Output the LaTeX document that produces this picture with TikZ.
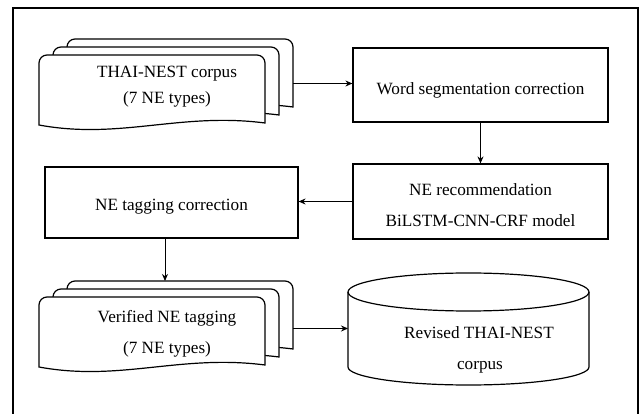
\documentclass[tikz,border=0pt]{standalone}
\usepackage{fontspec}
\setmainfont{Liberation Serif}
\usetikzlibrary{arrows.meta}
\tikzset{
  outline/.style={draw=black, line width=1.2pt},
  stepbox/.style={outline, rectangle, fill=white, inner sep=0pt},
  label/.style={font=\fontsize{17.2}{20}\selectfont, anchor=base, inner sep=0pt},
  flow/.style={line width=1pt, -{Stealth[length=7pt,width=6pt]}},
  frame/.style={draw=black, line width=2.2pt}
}
% one sheet of a document stack; #1,#2 = top-left corner
\newcommand{\docsheet}[2]{%
  \filldraw[outline, fill=white]
    (#1,#2+70) -- (#1,#2+8) arc[start angle=180, end angle=90, radius=8pt]
    -- (#1+218,#2) arc[start angle=90, end angle=0, radius=8pt]
    -- (#1+226,#2+68)
    .. controls (#1+141,#2+57) and (#1+81,#2+85) .. (#1,#2+70) -- cycle;}
\begin{document}
\begin{tikzpicture}[x=1pt, y=-1pt]
\useasboundingbox (0,0) rectangle (641,414);
% outer frame, open at the lower edge
\draw[frame] (13,430) -- (13,8) -- (638,8) -- (638,430);

% first document stack
\docsheet{67}{39}
\docsheet{53}{47}
\docsheet{39}{55}
\coordinate (corpusOut) at (293,83.5);
\node[label] (corpus1) at (167,78) {THAI-NEST corpus};
\node[label] (corpus2) at (167,104) {(7 NE types)};

% processing boxes
\node[stepbox, minimum width=255pt, minimum height=74pt] (wordseg) at (480.5,85) {};
\node[label] (wordsegText) at (480.5,95) {Word segmentation correction};
\node[stepbox, minimum width=255pt, minimum height=75pt] (nerec) at (480.5,201.5) {};
\node[label] (nerecA) at (480.5,196) {NE recommendation};
\node[label] (nerecB) at (480.5,227) {BiLSTM-CNN-CRF model};
\node[stepbox, minimum width=253pt, minimum height=71pt] (netag) at (171.5,202.5) {};
\node[label] (netagText) at (171.5,211) {NE tagging correction};

% second document stack
\docsheet{67}{281}
\docsheet{53}{289}
\docsheet{39}{297}
\coordinate (verOut) at (293,328.5);
\coordinate (verTop) at (165,281);
\node[label] (ver1) at (167,323) {Verified NE tagging};
\node[label] (ver2) at (167,354) {(7 NE types)};

% database cylinder
\filldraw[outline, fill=white]
  (348,292) -- (348,367) arc[start angle=180, end angle=360, x radius=120.5pt, y radius=18pt]
  -- (589,292) arc[start angle=0, end angle=180, x radius=120.5pt, y radius=19pt];
\draw[outline] (348,292) arc[start angle=180, end angle=360, x radius=120.5pt, y radius=19pt];
\coordinate (dbIn) at (348,328.5);
\node[label] (db1) at (479,339) {Revised THAI-NEST};
\node[label] (db2) at (480,370) {corpus};

% connectors
\draw[flow] (corpusOut) -- (corpusOut -| wordseg.west);
\draw[flow] (wordseg.south) -- (nerec.north);
\draw[flow] (nerec.west) -- (nerec.west -| netag.east);
\draw[flow] (netag.south -| verTop) -- (verTop);
\draw[flow] (verOut) -- (dbIn);
\end{tikzpicture}
\end{document}
